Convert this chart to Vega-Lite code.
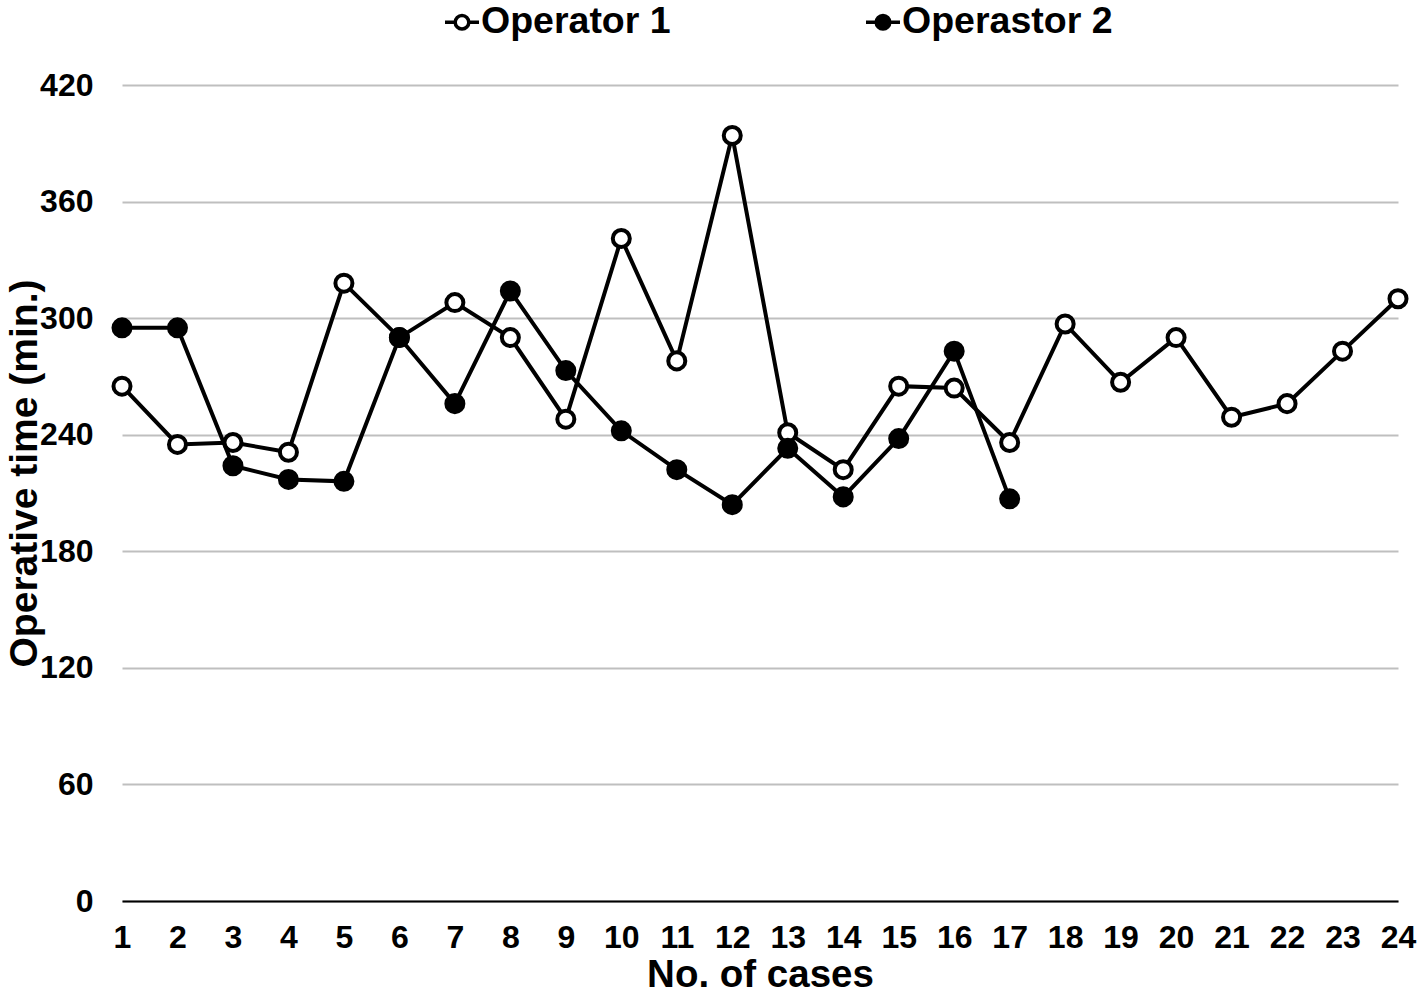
{
  "$schema": "https://vega.github.io/schema/vega-lite/v6.json",
  "width": 1276,
  "height": 816,
  "autosize": {"type": "none"},
  "padding": {"left": 122, "top": 85, "right": 25, "bottom": 103},
  "background": "white",
  "config": {
    "view": {"stroke": null},
    "font": "Liberation Sans",
    "axis": {"labelFont": "Liberation Sans", "titleFont": "Liberation Sans", "labelFontWeight": "bold", "titleFontWeight": "bold", "labelColor": "black", "titleColor": "black"},
    "legend": {"labelFont": "Liberation Sans", "labelFontWeight": "bold", "labelColor": "black"}
  },
  "data": {
    "values": [
      {"case": 1, "op": "Operator 1", "time": 265},
      {"case": 2, "op": "Operator 1", "time": 235},
      {"case": 3, "op": "Operator 1", "time": 236},
      {"case": 4, "op": "Operator 1", "time": 231},
      {"case": 5, "op": "Operator 1", "time": 318},
      {"case": 6, "op": "Operator 1", "time": 290},
      {"case": 7, "op": "Operator 1", "time": 308},
      {"case": 8, "op": "Operator 1", "time": 290},
      {"case": 9, "op": "Operator 1", "time": 248},
      {"case": 10, "op": "Operator 1", "time": 341},
      {"case": 11, "op": "Operator 1", "time": 278},
      {"case": 12, "op": "Operator 1", "time": 394},
      {"case": 13, "op": "Operator 1", "time": 241},
      {"case": 14, "op": "Operator 1", "time": 222},
      {"case": 15, "op": "Operator 1", "time": 265},
      {"case": 16, "op": "Operator 1", "time": 264},
      {"case": 17, "op": "Operator 1", "time": 236},
      {"case": 18, "op": "Operator 1", "time": 297},
      {"case": 19, "op": "Operator 1", "time": 267},
      {"case": 20, "op": "Operator 1", "time": 290},
      {"case": 21, "op": "Operator 1", "time": 249},
      {"case": 22, "op": "Operator 1", "time": 256},
      {"case": 23, "op": "Operator 1", "time": 283},
      {"case": 24, "op": "Operator 1", "time": 310},
      {"case": 1, "op": "Operastor 2", "time": 295},
      {"case": 2, "op": "Operastor 2", "time": 295},
      {"case": 3, "op": "Operastor 2", "time": 224},
      {"case": 4, "op": "Operastor 2", "time": 217},
      {"case": 5, "op": "Operastor 2", "time": 216},
      {"case": 6, "op": "Operastor 2", "time": 290},
      {"case": 7, "op": "Operastor 2", "time": 256},
      {"case": 8, "op": "Operastor 2", "time": 314},
      {"case": 9, "op": "Operastor 2", "time": 273},
      {"case": 10, "op": "Operastor 2", "time": 242},
      {"case": 11, "op": "Operastor 2", "time": 222},
      {"case": 12, "op": "Operastor 2", "time": 204},
      {"case": 13, "op": "Operastor 2", "time": 233},
      {"case": 14, "op": "Operastor 2", "time": 208},
      {"case": 15, "op": "Operastor 2", "time": 238},
      {"case": 16, "op": "Operastor 2", "time": 283},
      {"case": 17, "op": "Operastor 2", "time": 207}
    ]
  },
  "encoding": {
    "x": {
      "field": "case", "type": "quantitative",
      "scale": {"domain": [1, 24], "nice": false, "zero": false},
      "axis": {
        "values": [1,2,3,4,5,6,7,8,9,10,11,12,13,14,15,16,17,18,19,20,21,22,23,24],
        "format": "d", "grid": false, "domain": true, "domainColor": "black", "domainWidth": 2,
        "ticks": false, "labelFontSize": 32, "labelPadding": 21, "labelFlush": false, "labelOverlap": false, "labelBound": false,
        "title": "No. of cases", "titleFontSize": 38.5, "titlePadding": 3
      }
    },
    "y": {
      "field": "time", "type": "quantitative",
      "scale": {"domain": [0, 420], "nice": false},
      "axis": {
        "values": [0, 60, 120, 180, 240, 300, 360, 420],
        "grid": true, "gridColor": "#bfbfbf", "gridWidth": 2, "domain": false, "ticks": false,
        "labelFontSize": 32, "labelPadding": 29, "labelFlush": false,
        "title": "Operative time (min.)", "titleFontSize": 39, "titleX": -78, "titleY": 388, "titleAngle": -90, "titleBaseline": "bottom", "titleAlign": "center"
      }
    }
  },
  "layer": [
    {
      "transform": [{"filter": "datum.op === 'Operator 1'"}],
      "mark": {"type": "line", "color": "black", "strokeWidth": 4},
      "encoding": {}
    },
    {
      "transform": [{"filter": "datum.op === 'Operator 1'"}],
      "mark": {"type": "point", "filled": false, "stroke": "black", "strokeWidth": 4, "size": 290, "shape": "circle", "opacity": 1},
      "encoding": {
        "fill": {"field": "op", "type": "nominal", "scale": {"domain": ["Operator 1", "Operastor 2"], "range": ["white", "black"]}, "legend": {
          "orient": "none", "legendX": 321, "legendY": -82, "direction": "horizontal", "title": null,
          "labelFontSize": 37.5, "labelOffset": 0, "labelLimit": 0, "columnPadding": 188,
          "symbolType": "M-1,0H-0.4M0.4,0H1M0.4,0A0.4,0.4,0,1,1,-0.4,0A0.4,0.4,0,1,1,0.4,0Z",
          "symbolSize": 1156, "symbolStrokeColor": "black", "symbolStrokeWidth": 3.5, "symbolOpacity": 1
        }}
      }
    },
    {
      "transform": [{"filter": "datum.op === 'Operastor 2'"}],
      "mark": {"type": "line", "color": "black", "strokeWidth": 4},
      "encoding": {}
    },
    {
      "transform": [{"filter": "datum.op === 'Operastor 2'"}],
      "mark": {"type": "point", "filled": false, "stroke": "black", "strokeWidth": 4, "size": 290, "shape": "circle", "opacity": 1},
      "encoding": {
        "fill": {"field": "op", "type": "nominal"}
      }
    }
  ]
}
